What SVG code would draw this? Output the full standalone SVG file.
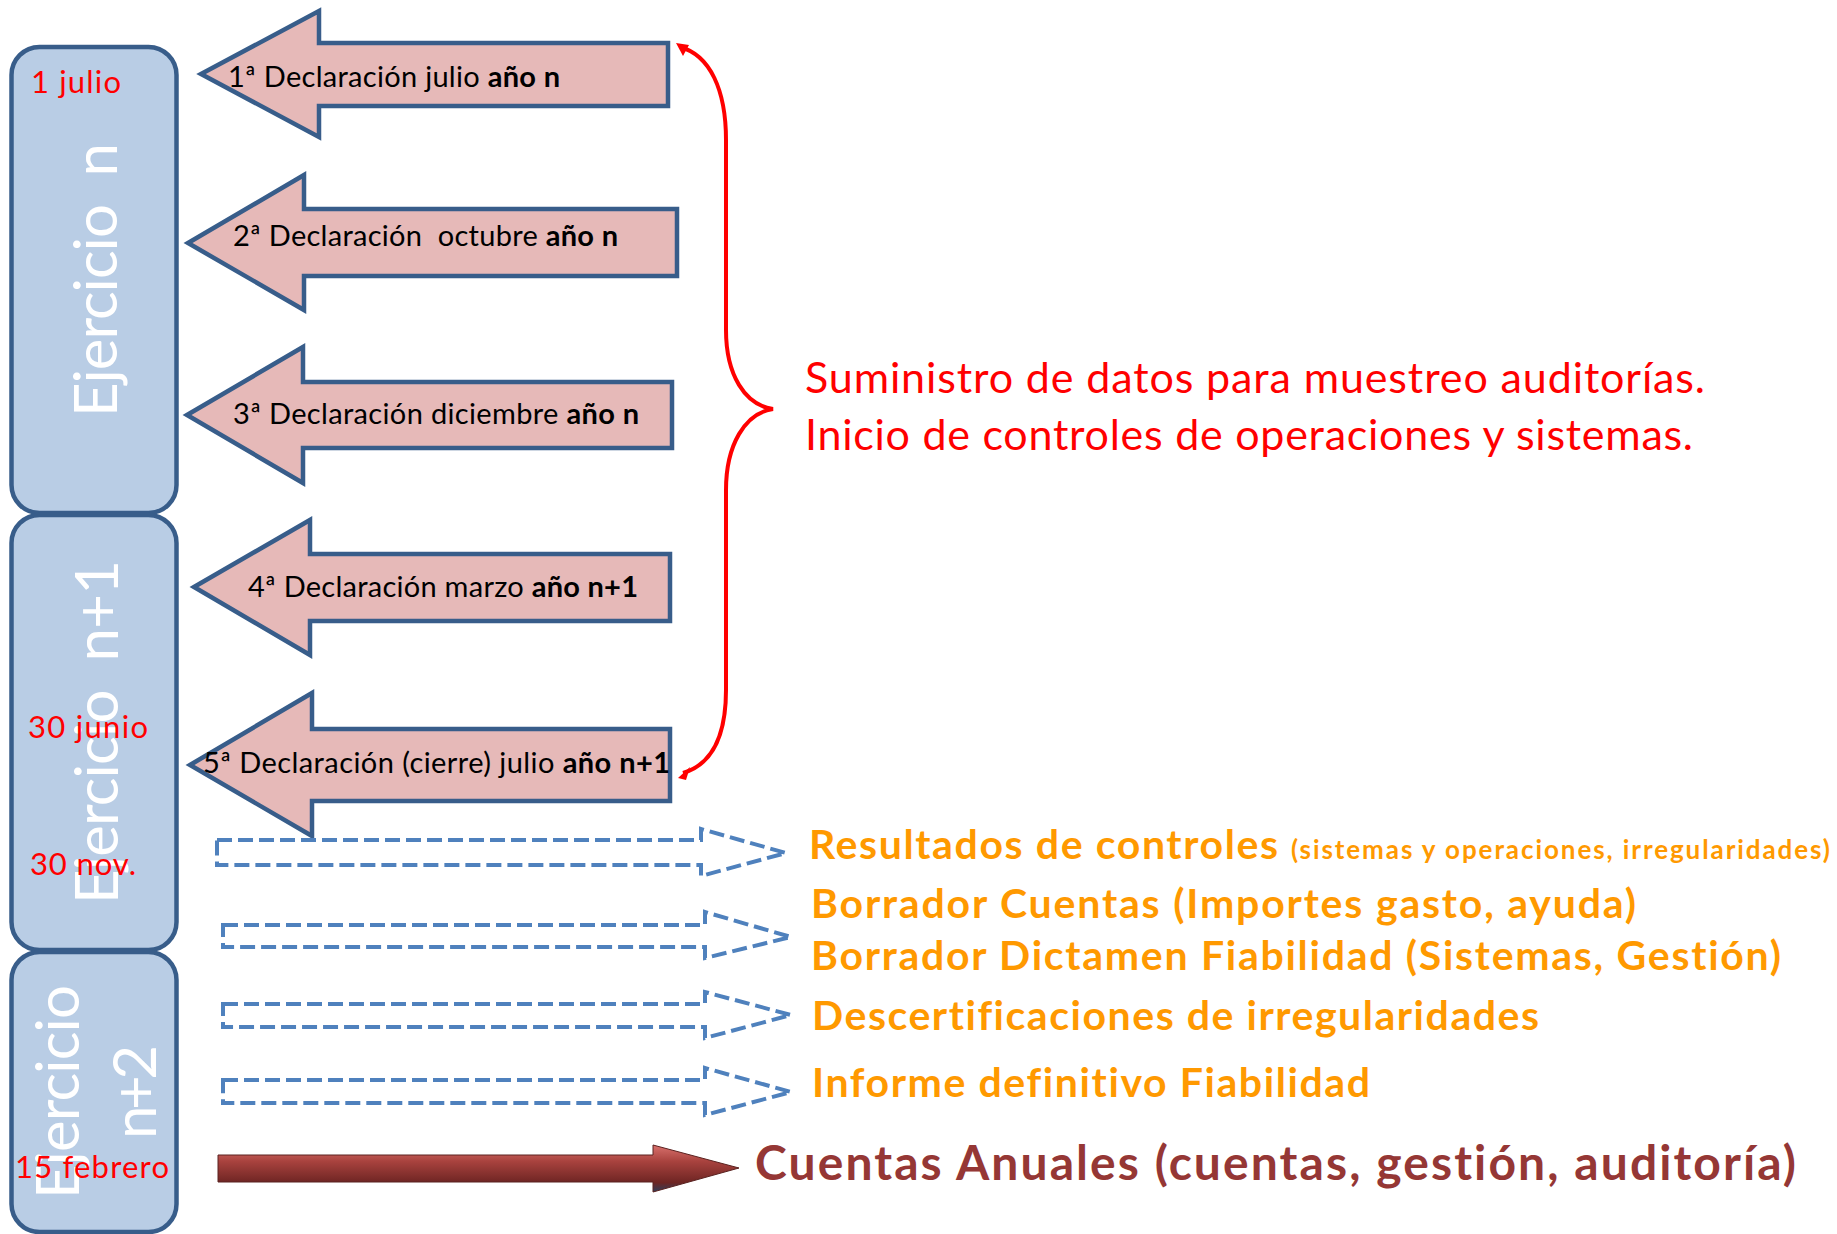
<svg xmlns="http://www.w3.org/2000/svg" width="1837" height="1234" viewBox="0 0 1837 1234">
<style>
text{font-variant-ligatures:none;font-feature-settings:"liga" 0,"dlig" 0}
.box{fill:#b9cde5;stroke:#385d8a;stroke-width:4.5}
.vt{font-family:Lato,"Open Sans",sans-serif;font-size:60px;fill:#ffffff;text-anchor:middle}
.date{font-family:Lato,"Liberation Sans",sans-serif;font-size:31px;fill:#ff0000}
.blk{fill:#e6b9b8;stroke:#385d8a;stroke-width:4.5;stroke-linejoin:miter}
.at{font-family:Lato,"Liberation Sans",sans-serif;font-size:29px;fill:#000000}
.b{font-weight:bold}
.dash{fill:none;stroke:#4f81bd;stroke-width:4;stroke-dasharray:15 6}
.red{font-family:Lato,"Liberation Sans",sans-serif;font-size:43px;fill:#ff0000}
.or{font-family:Lato,"Liberation Sans",sans-serif;font-size:41px;font-weight:bold;fill:#ff9900}
.ca{font-family:Lato,"Liberation Sans",sans-serif;font-size:48px;font-weight:bold;fill:#953735}
</style>
<defs>
<linearGradient id="g3d" x1="0" y1="0" x2="0" y2="1">
<stop offset="0" stop-color="#d9716d"/>
<stop offset="0.35" stop-color="#a8423e"/>
<stop offset="0.8" stop-color="#6e2523"/>
<stop offset="1" stop-color="#2f3e5a"/>
</linearGradient>
</defs>

<g id="ejercicio-n">
<rect class="box" x="11.5" y="47" width="165" height="466" rx="28"/>
<text class="vt" transform="translate(117,280) rotate(-90)" xml:space="preserve" textLength="274" lengthAdjust="spacing">Ejercicio  n</text>
</g>
<g id="ejercicio-n1">
<rect class="box" x="11.5" y="515" width="165" height="435" rx="28"/>
<text class="vt" transform="translate(118,732) rotate(-90)" xml:space="preserve" textLength="344" lengthAdjust="spacing">Ejercicio  n+1</text>
</g>
<g id="ejercicio-n2">
<rect class="box" x="11.5" y="952" width="165" height="280" rx="28"/>
<text class="vt" transform="translate(79,1092) rotate(-90)" textLength="214" lengthAdjust="spacing">Ejercicio</text>
<text class="vt" transform="translate(156,1092) rotate(-90)" textLength="94" lengthAdjust="spacing">n+2</text>
</g>

<g id="dates">
<text class="date" x="31" y="93" textLength="90" lengthAdjust="spacing">1 julio</text>
<text class="date" x="28" y="738" textLength="120" lengthAdjust="spacing">30 junio</text>
<text class="date" x="30" y="875" textLength="106" lengthAdjust="spacing">30 nov.</text>
<text class="date" x="15" y="1178" textLength="154" lengthAdjust="spacing">15 febrero</text>
</g>

<g id="decl-1">
<polygon class="blk" points="201,74 319,11 319,43 668,43 668,106 319,106 319,137"/>
<text class="at" x="228" y="87" textLength="332" lengthAdjust="spacing">1ª Declaración julio <tspan class="b">año n</tspan></text>
</g>
<g id="decl-2">
<polygon class="blk" points="188,243 304,175 304,209 677,209 677,276 304,276 304,310"/>
<text class="at" x="233" y="246" xml:space="preserve" textLength="385" lengthAdjust="spacing">2ª Declaración  octubre <tspan class="b">año n</tspan></text>
</g>
<g id="decl-3">
<polygon class="blk" points="187,415 303,347 303,382 672,382 672,448 303,448 303,483"/>
<text class="at" x="233" y="424" textLength="406" lengthAdjust="spacing">3ª Declaración diciembre <tspan class="b">año n</tspan></text>
</g>
<g id="decl-4">
<polygon class="blk" points="194,587 310,520 310,554 670,554 670,621 310,621 310,655"/>
<text class="at" x="248" y="597" textLength="390" lengthAdjust="spacing">4ª Declaración marzo <tspan class="b">año n+1</tspan></text>
</g>
<g id="decl-5">
<polygon class="blk" points="190,765 312,693 312,729 670,729 670,801 312,801 312,836"/>
<text class="at" x="203" y="773" textLength="467" lengthAdjust="spacing">5ª Declaración (cierre) julio <tspan class="b">año n+1</tspan></text>
</g>

<g id="connectors">
<path d="M680,47 C710,55 726,90 726,140 L726,330 C726,375 745,405 773,409 C745,413 726,445 726,490 L726,690 C726,740 710,765 683,773" fill="none" stroke="#ff0000" stroke-width="4"/>
<polygon points="676,43 689,45 683,56" fill="#ff0000"/>
<polygon points="678,778 690,767 686,780" fill="#ff0000"/>
<polygon class="dash" points="217,840 701,840 701,829 786,853 701,876 701,865 217,865"/>
<polygon class="dash" points="223,925 705,925 705,912 791,937 705,958 705,947 223,947"/>
<polygon class="dash" points="223,1004 705,1004 705,992 791,1015 705,1038 705,1027 223,1027"/>
<polygon class="dash" points="223,1080 705,1080 705,1068 791,1092 705,1115 705,1103 223,1103"/>
<polygon points="218,1155 653,1155 653,1145 739,1168 653,1192 653,1182 218,1182" fill="url(#g3d)" stroke="#5a2220" stroke-width="1"/>
</g>

<g id="labels">
<text class="red" x="805" y="393" textLength="900" lengthAdjust="spacing">Suministro de datos para muestreo auditorías.</text>
<text class="red" x="805" y="450" textLength="888" lengthAdjust="spacing">Inicio de controles de operaciones y sistemas.</text>
<text class="or" x="809" y="859" textLength="469" lengthAdjust="spacing">Resultados de controles</text>
<text class="or" x="1291" y="859" style="font-size:26px" textLength="539" lengthAdjust="spacing">(sistemas y operaciones, irregularidades)</text>
<text class="or" x="811" y="918" textLength="825" lengthAdjust="spacing">Borrador Cuentas (Importes gasto, ayuda)</text>
<text class="or" x="811" y="970" textLength="970" lengthAdjust="spacing">Borrador Dictamen Fiabilidad (Sistemas, Gestión)</text>
<text class="or" x="812" y="1030" textLength="727" lengthAdjust="spacing">Descertificaciones de irregularidades</text>
<text class="or" x="812" y="1097" textLength="558" lengthAdjust="spacing">Informe definitivo Fiabilidad</text>
<text class="ca" x="755" y="1180" textLength="1041" lengthAdjust="spacing">Cuentas Anuales (cuentas, gestión, auditoría)</text>
</g>
</svg>
